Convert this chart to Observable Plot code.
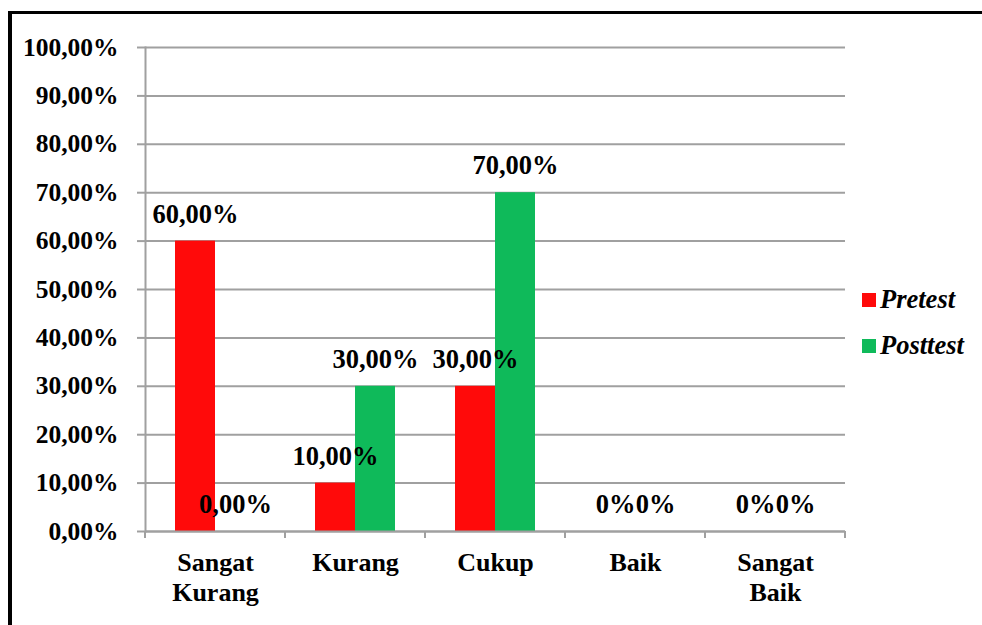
<!DOCTYPE html>
<html><head><meta charset="utf-8">
<script src="https://cdn.jsdelivr.net/npm/d3@7"></script>
<script src="https://cdn.jsdelivr.net/npm/@observablehq/plot@0.6"></script>
<style>
body{margin:0;background:#fff;}
#wrap{position:relative;width:982px;height:625px;overflow:hidden;font-family:"Liberation Serif","Times New Roman",serif;}
#border{position:absolute;left:8px;top:11px;width:1100px;height:800px;border-left:4px solid #000;border-top:3px solid #000;}
#chart{position:absolute;left:0;top:0;}
#legend{position:absolute;left:862px;top:285px;font-weight:bold;font-style:italic;font-size:26.5px;color:#000;}
.row{display:flex;align-items:center;height:28px;margin-bottom:18px;white-space:nowrap;}
.sw{width:14px;height:14px;margin-right:4px;margin-top:2px;}
</style></head>
<body><div id="wrap"><div id="border"></div><div id="chart"></div><div id="legend"></div></div>
<script>
const categories = ["Sangat Kurang", "Kurang", "Cukup", "Baik", "Sangat Baik"];
const categoryLabels = ["Sangat\nKurang", "Kurang", "Cukup", "Baik", "Sangat\nBaik"];
const series = ["Pretest", "Posttest"];
const pretest = [60, 10, 30, 0, 0];
const posttest = [0, 30, 70, 0, 0];
const pretestLabels = ["60,00%", "10,00%", "30,00%", "0%", "0%"];
const posttestLabels = ["0,00%", "30,00%", "70,00%", "0%", "0%"];
const yTicks = [0, 10, 20, 30, 40, 50, 60, 70, 80, 90, 100];
const colors = ["#FF0A0A", "#0FBA5A"];

const data = [];
categories.forEach((c, i) => {
  data.push({category: c, series: "Pretest", value: pretest[i], label: pretestLabels[i]});
  data.push({category: c, series: "Posttest", value: posttest[i], label: posttestLabels[i]});
});

const font = '"Liberation Serif","Times New Roman",serif';
const grid = "#a0a0a0";

const chart = Plot.plot({
  width: 982, height: 625,
  marginLeft: 145, marginRight: 137, marginTop: 47, marginBottom: 94,
  style: {fontFamily: font, fontSize: "25px", fontWeight: "bold", color: "#000", background: "transparent", overflow: "visible"},
  fx: {domain: categories, padding: 0, label: null, axis: null},
  x: {domain: series, paddingInner: 0, paddingOuter: 0.75, axis: null},
  y: {domain: [0, 100], axis: null},
  color: {domain: series, range: colors},
  marks: [
    Plot.gridY(yTicks, {stroke: grid, strokeOpacity: 1, strokeWidth: 2}),
    Plot.axisY(yTicks, {tickSize: 8, tickPadding: 19, stroke: grid, strokeWidth: 2, strokeOpacity: 1, fill: "#000",
      tickFormat: d => d.toFixed(2).replace(".", ",") + "%", fontSize: 25.5, fontWeight: "bold", label: null}),
    Plot.frame({anchor: "left", facetAnchor: "left", stroke: grid, strokeWidth: 2}),
    Plot.barY(data, {fx: "category", x: "series", y: "value", fill: "series"}),
    Plot.ruleY([0], {stroke: grid, strokeWidth: 2}),
    Plot.text(data, {fx: "category", x: "series", y: "value", text: "label", dy: -27,
      fontSize: 26.5, fontWeight: "bold", fill: "#000"}),
    Plot.axisFx({anchor: "bottom", tickSize: 0, tickPadding: 18, lineHeight: 1.15, label: null,
      tickFormat: d => categoryLabels[categories.indexOf(d)], fontSize: 26, fontWeight: "bold", fill: "#000"})
  ]
});

// boundary tick marks on the category axis, from the fx and y scales
const fx = chart.scale("fx"), ys = chart.scale("y");
const bw = fx.bandwidth;
const bounds = categories.map(c => fx.apply(c)).concat([fx.apply(categories[categories.length - 1]) + bw]);
const y0 = ys.apply(0);
d3.select(chart).append("g")
  .attr("stroke", grid).attr("stroke-width", 2)
  .selectAll("line").data(bounds).join("line")
  .attr("x1", d => d).attr("x2", d => d).attr("y1", y0).attr("y2", y0 + 7);

document.getElementById("chart").appendChild(chart);

const legend = d3.select("#legend");
series.forEach((s, i) => {
  const row = legend.append("div").attr("class", "row");
  row.append("div").attr("class", "sw").style("background", colors[i]);
  row.append("span").text(s);
});
</script>
</body></html>
